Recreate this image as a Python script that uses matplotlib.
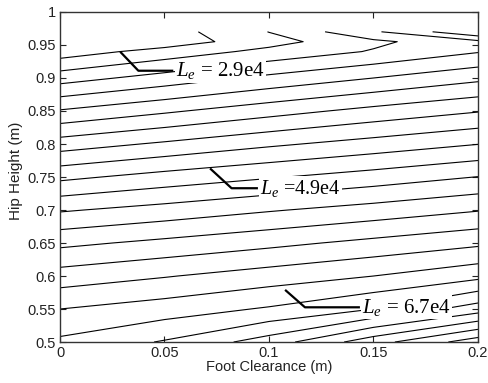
import numpy as np
import matplotlib
matplotlib.use("Agg")
import matplotlib.pyplot as plt

# grid: foot clearance (m) x hip height (m), Le in thousands
clearance = [0.0, 0.05, 0.1, 0.15, 0.2]
hip = [0.5, 0.55, 0.6, 0.65, 0.7, 0.75, 0.8, 0.85, 0.9, 0.94, 0.955, 0.97]
le_k = [
    [67.7, 69.7, 72.8, 77.6, 82.0],
    [65.0, 66.1, 67.5, 69.5, 72.9],
    [61.5, 62.6, 63.8, 65.0, 66.6],
    [57.7, 58.8, 59.9, 61.1, 62.3],
    [53.5, 54.6, 55.8, 56.9, 58.1],
    [48.7, 50.1, 51.3, 52.5, 53.8],
    [43.6, 45.1, 46.6, 47.9, 49.2],
    [38.2, 39.9, 41.6, 43.2, 44.6],
    [32.5, 34.4, 36.3, 38.0, 39.7],
    [27.8, 29.9, 31.9, 33.7, 35.6],
    [25.0, 27.7, 30.4, 33.0, 35.2],
    [25.4, 27.9, 31.3, 35.4, 40.0],
]
levels_k = [29 + 2.25 * i for i in range(26)]

# labels: text, leader (start, bend, end) and text anchor
labels = [r"$L_e$ = 2.9e4", r"$L_e$ =4.9e4", r"$L_e$ = 6.7e4"]
leaders = [
    [(0.0288, 0.9398), (0.0375, 0.911), (0.0542, 0.911)],
    [(0.0718, 0.763), (0.0821, 0.733), (0.0947, 0.733)],
    [(0.1077, 0.579), (0.1172, 0.5526), (0.1435, 0.5526)],
]
label_pos = [(0.0555, 0.911), (0.0957, 0.733), (0.1445, 0.5526)]
label_size = [15, 14.5, 15]

plt.rcParams["font.family"] = "Liberation Sans"
plt.rcParams["mathtext.fontset"] = "custom"
plt.rcParams["mathtext.rm"] = "Liberation Serif"
plt.rcParams["mathtext.it"] = "Liberation Serif:italic"

fig = plt.figure(figsize=(4.89, 3.83), dpi=100)
ax = fig.add_axes([0.1227, 0.107, 0.8548, 0.8617])

X, Y = np.meshgrid(clearance, hip)
Z = np.array(le_k) * 1000
ax.contour(X, Y, Z, levels=np.array(levels_k) * 1000, colors="k", linewidths=0.8)

for txt, lead, pos, fs in zip(labels, leaders, label_pos, label_size):
    lx, ly = zip(*lead)
    ax.plot(lx, ly, color="k", lw=1.6, solid_capstyle="butt")
    ax.text(pos[0], pos[1], txt, family="Liberation Serif", fontsize=fs,
            va="center", ha="left",
            bbox=dict(facecolor="white", edgecolor="none", pad=1.0))

ax.set_xlim(0, 0.2)
ax.set_ylim(0.5, 1)
ax.set_xticks([0, 0.05, 0.1, 0.15, 0.2])
ax.set_xticklabels(["0", "0.05", "0.1", "0.15", "0.2"])
ax.set_yticks(np.arange(0.5, 1.001, 0.05))
ax.set_yticklabels(["0.5", "0.55", "0.6", "0.65", "0.7", "0.75",
                    "0.8", "0.85", "0.9", "0.95", "1"])
ax.tick_params(direction="in", length=4, top=True, right=True,
               labelsize=10.5, colors="#222222", pad=3)
for s in ax.spines.values():
    s.set_color("#333333")
    s.set_linewidth(1.0)

ax.set_xlabel("Foot Clearance (m)", fontsize=10.5, color="#222222")
ax.set_ylabel("Hip Height (m)", fontsize=11, color="#222222")
ax.xaxis.set_label_coords(0.5, -0.055)
ax.yaxis.set_label_coords(-0.088, 0.52)

plt.savefig("out.png", dpi=100)
